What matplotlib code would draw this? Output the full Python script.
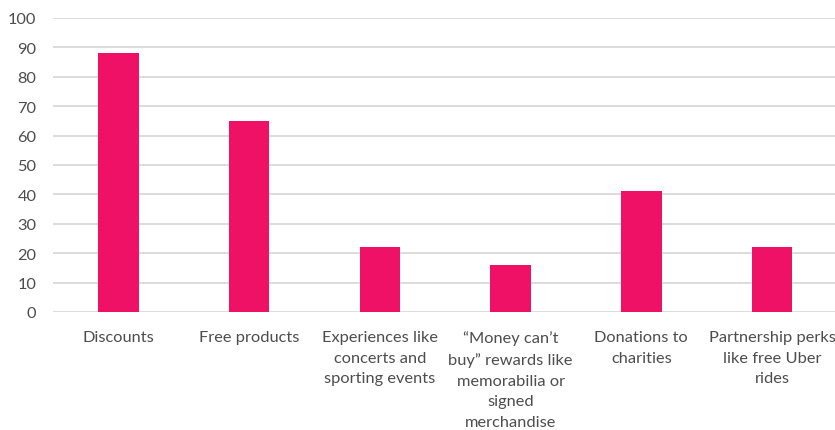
import matplotlib
matplotlib.use("Agg")
import matplotlib.pyplot as plt

categories = [
    "Discounts",
    "Free products",
    "Experiences like\nconcerts and\nsporting events",
    "\u201cMoney can\u2019t\nbuy\u201d rewards like\nmemorabilia or\nsigned\nmerchandise",
    "Donations to\ncharities",
    "Partnership perks\nlike free Uber\nrides",
]
values = [88, 65, 22, 16, 41, 22]
yticks = [0, 10, 20, 30, 40, 50, 60, 70, 80, 90, 100]

W, H = 835, 431
fig = plt.figure(figsize=(W / 100, H / 100), dpi=100)
left, right, top, bottom = 53, 837.5, 19, 313
ax = fig.add_axes([left / W, 1 - bottom / H, (right - left) / W, (bottom - top) / H])

x = list(range(len(categories)))
ax.bar(x, values, width=0.31, color="#EE1166", zorder=3)
ax.set_xlim(-0.5, len(categories) - 0.5)
ax.set_ylim(0, 100)
ax.set_yticks(yticks)
ax.set_xticks(x)
ax.set_xticklabels(categories, fontsize=11.8, color="#4d4d4d", family="Lato", linespacing=1.6)
ax.set_yticklabels([str(t) for t in yticks], fontsize=11.8, color="#4d4d4d", family="Lato")
ax.grid(axis="y", color="#d9d9d9", linewidth=1.3, zorder=0)
for s in ax.spines.values():
    s.set_visible(False)
ax.tick_params(axis="both", length=0)
ax.tick_params(axis="x", pad=13)
ax.tick_params(axis="y", pad=12)

fig.savefig("out.png", dpi=100)
